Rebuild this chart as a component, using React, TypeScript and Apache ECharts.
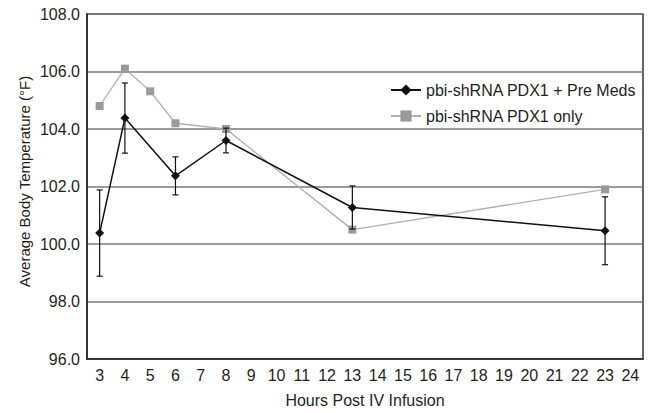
import React, { useEffect, useRef } from "react";
import * as echarts from "echarts";

const hours = ["3","4","5","6","7","8","9","10","11","12","13","14","15","16","17","18","19","20","21","22","23","24"];
const yTicks = [96, 98, 100, 102, 104, 106, 108];

const preMedsHours = ["3", "4", "6", "8", "13", "23"];
const preMedsMean = [100.38, 104.38, 102.37, 103.6, 101.27, 100.46];
const preMedsErr = [1.5, 1.22, 0.66, 0.43, 0.75, 1.18];

const onlyHours = ["3", "4", "5", "6", "8", "13", "23"];
const onlyMean = [104.8, 106.1, 105.31, 104.2, 104.0, 100.5, 101.9];

const seriesNames = ["pbi-shRNA PDX1 + Pre Meds", "pbi-shRNA PDX1 only"];
const yAxisTitle = "Average Body Temperature (°F)";
const xAxisTitle = "Hours Post IV Infusion";

export default function App() {
  const ref = useRef<HTMLDivElement>(null);
  useEffect(() => {
    if (!ref.current) return;
    const chart = echarts.init(ref.current, undefined, { renderer: "svg" });
    const font = "'Liberation Sans', Arial, sans-serif";
    const textColor = "#231f20";
    const errData = preMedsHours.map((h, i) => [h, preMedsMean[i] - preMedsErr[i], preMedsMean[i] + preMedsErr[i]]);
    chart.setOption({
      animation: false,
      textStyle: { fontFamily: font },
      grid: { left: 87, right: 13, top: 14, bottom: 51, show: true, borderColor: "#333", borderWidth: 1.5 },
      graphic: [
        {
          type: "text",
          x: 24.5,
          y: 181.5,
          rotation: Math.PI / 2,
          style: {
            text: yAxisTitle,
            fontSize: 15,
            fontFamily: font,
            fill: textColor,
            align: "center",
            verticalAlign: "middle",
          },
        },
      ],
      legend: {
        orient: "vertical",
        left: 385,
        top: 77,
        itemWidth: 30,
        itemHeight: 14,
        itemGap: 10,
        textStyle: { fontSize: 16, color: textColor, fontFamily: font },
        data: seriesNames,
      },
      xAxis: {
        type: "category",
        data: hours,
        boundaryGap: true,
        axisLine: { lineStyle: { color: "#222", width: 1.5 } },
        axisTick: { show: false },
        axisLabel: { fontSize: 16, color: textColor, margin: 8, interval: 0 },
        name: xAxisTitle,
        nameLocation: "middle",
        nameGap: 33,
        nameTextStyle: { fontSize: 16, color: textColor },
      },
      yAxis: {
        type: "value",
        min: yTicks[0],
        max: yTicks[yTicks.length - 1],
        interval: 2,
        axisLine: { show: true, lineStyle: { color: "#222", width: 1.5 } },
        axisTick: { show: false },
        axisLabel: { fontSize: 16, color: textColor, margin: 7, formatter: (v: number) => v.toFixed(1) },
        splitLine: { lineStyle: { color: "#7a7a7a", width: 1.5 } },
      },
      series: [
        {
          name: seriesNames[1],
          type: "line",
          data: onlyHours.map((h, i) => [h, onlyMean[i]]),
          symbol: "rect",
          symbolSize: 8,
          lineStyle: { color: "#b0b0b0", width: 1.3 },
          itemStyle: { color: "#9a9a9a" },
          z: 2,
        },
        {
          name: "err",
          type: "custom",
          data: errData,
          encode: { x: 0, y: [1, 2] },
          z: 3,
          renderItem: (params: any, api: any) => {
            const x = api.value(0);
            const lo = api.coord([x, api.value(1)]);
            const hi = api.coord([x, api.value(2)]);
            const cw = 3;
            const style = { stroke: "#111", lineWidth: 1.2 };
            return {
              type: "group",
              children: [
                { type: "line", shape: { x1: lo[0], y1: lo[1], x2: hi[0], y2: hi[1] }, style },
                { type: "line", shape: { x1: lo[0] - cw, y1: lo[1], x2: lo[0] + cw, y2: lo[1] }, style },
                { type: "line", shape: { x1: hi[0] - cw, y1: hi[1], x2: hi[0] + cw, y2: hi[1] }, style },
              ],
            };
          },
        },
        {
          name: seriesNames[0],
          type: "line",
          data: preMedsHours.map((h, i) => [h, preMedsMean[i]]),
          symbol: "diamond",
          symbolSize: 9,
          lineStyle: { color: "#111", width: 1.5 },
          itemStyle: { color: "#111" },
          z: 4,
        },
      ],
    });
    return () => chart.dispose();
  }, []);
  return <div ref={ref} style={{ width: 656, height: 413, position: "absolute", left: 0, top: 0 }} />;
}
